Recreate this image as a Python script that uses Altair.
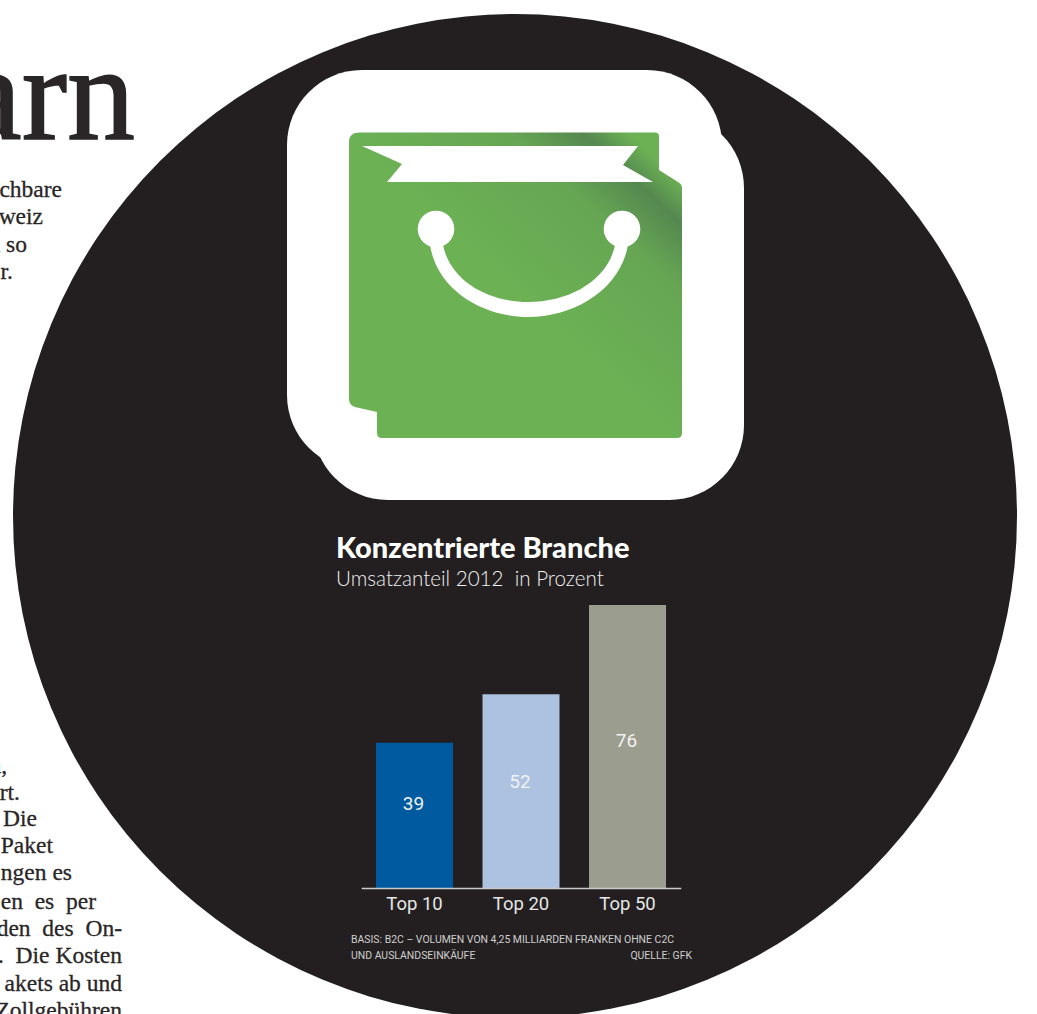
import altair as alt
import pandas as pd

# Bar chart values: share of online revenue (percent)
GROUPS = ["Top 10", "Top 20", "Top 50"]
SHARES = [39, 52, 76]
BAR_COLORS = ["#005a9f", "#adc1e0", "#9b9d8f"]

TITLE = "Konzentrierte Branche"
SUBTITLE = "Umsatzanteil 2012\u00a0\u00a0in Prozent"
NOTE_LINE_1 = "BASIS: B2C – VOLUMEN VON 4,25 MILLIARDEN FRANKEN OHNE C2C"
NOTE_LINE_2 = "UND AUSLANDSEINKÄUFE"
SOURCE = "QUELLE: GFK"

INK = "#231f20"
GREEN = "#6cb254"
PAPER_INK = "#2a2627"
SANS = "Roboto"

# Icon outlines in page pixels; a symbol of size 4 is drawn at a scale of 1
BAG_PATH = (
    "M349 142 Q349 132.5 360 132.5 L655 132.5 Q659 132.5 659 136 L659 170 L678 182 "
    "Q682 184 682 188 L682 433 Q682 438 677 438 L382 438 Q377 438 377 433 "
    "L377 412 L355 407 Q349 405 349 399 Z"
)
RIBBON_PATH = "M362 146 L638 146 L623 165 L653 182 L387 182 L402 164 Z"
HANDLE_PATH = (
    "M430 245 C437 290 483 317 528 317 C574 317 620 290 628 245 L615 245 "
    "C608 280 570 302 528 302 C487 302 450 280 443 245 Z"
)

bag_fill = alt.LinearGradient(
    gradient="linear",
    x1=0, y1=1, x2=1, y2=0,
    stops=[
        alt.GradientStop(color=GREEN, offset=0),
        alt.GradientStop(color=GREEN, offset=0.47),
        alt.GradientStop(color="#66a653", offset=0.74),
        alt.GradientStop(color="#558850", offset=0.85),
        alt.GradientStop(color=GREEN, offset=0.92),
        alt.GradientStop(color=GREEN, offset=1),
    ],
)

anchor = pd.DataFrame({"anchor": [0]})


def text_at(content, x, y, **style):
    """A single line of text placed on the page with its baseline at y."""
    return (
        alt.Chart(anchor)
        .mark_text(text=content, baseline="alphabetic", **style)
        .encode(x=alt.value(x), y=alt.value(y))
    )


def shape_at(path, fill):
    """An outline drawn from a path given in page pixels."""
    return (
        alt.Chart(anchor)
        .mark_point(shape=path, size=4, filled=True, fill=fill, opacity=1, strokeWidth=0)
        .encode(x=alt.value(0), y=alt.value(0))
    )


def panel(x, x2, y, y2):
    """White rounded square behind the icon."""
    return (
        alt.Chart(anchor)
        .mark_rect(fill="white", cornerRadius=75)
        .encode(x=alt.value(x), x2=alt.value(x2), y=alt.value(y), y2=alt.value(y2))
    )


disc = (
    alt.Chart(anchor)
    .mark_point(shape="circle", size=1008016, filled=True, fill=INK, opacity=1, strokeWidth=0)
    .encode(x=alt.value(515), y=alt.value(516))
)

icon = [
    panel(287, 722, 70, 470),
    panel(313, 744, 113, 500),
    shape_at(BAG_PATH, bag_fill),
    shape_at(RIBBON_PATH, "white"),
    shape_at(HANDLE_PATH, "white"),
]
for cx in (436, 622):
    icon.append(
        alt.Chart(anchor)
        .mark_point(shape="circle", size=1340, filled=True, fill="white", opacity=1, strokeWidth=0)
        .encode(x=alt.value(cx), y=alt.value(229))
    )

# Headline and body copy running off the left edge of the page
serif = dict(
    font="Liberation Serif", fontSize=23.5, color=PAPER_INK, align="right",
    stroke=PAPER_INK, strokeWidth=0.3,
)
wide = "\u00a0\u00a0"
page_text = [
    text_at("arn", 135, 139, font="Liberation Serif", fontSize=136, color=PAPER_INK,
            align="right", stroke=PAPER_INK, strokeWidth=1.6),
    text_at("chbare", 62, 197, **serif),
    text_at("weiz", 43, 224, **serif),
    text_at("n so", 27, 252, **serif),
    text_at("r.", 13, 279, **serif),
    text_at("n,", 7, 773, **serif),
    text_at("rt.", 20, 800, **serif),
    text_at("Die", 37, 826, **serif),
    text_at("Paket", 53, 853, **serif),
    text_at("ngen es", 72, 880, **serif),
    text_at(f"en{wide}es{wide}per", 96, 909, **serif),
    text_at(f"den{wide}des{wide}On-", 122, 936, **serif),
    text_at(f".{wide}Die Kosten", 122, 963, **serif),
    text_at("akets ab und", 122, 991, **serif),
    text_at("Zollgebühren", 122, 1018, **serif),
]

note = dict(font=SANS, fontSize=10.45, color="#cfcfcf")
captions = [
    text_at(TITLE, 336, 558, font="Lato", fontWeight=900, fontSize=29, color="white", align="left"),
    text_at(SUBTITLE, 336, 586, font="Lato", fontWeight=300, fontSize=20.6, color="#f0f0f0", align="left"),
    text_at(NOTE_LINE_1, 351, 943, align="left", **note),
    text_at(NOTE_LINE_2, 351, 959, align="left", **note),
    text_at(SOURCE, 692, 959, align="right", **note),
]

# The bars, their value labels and the category axis share one pair of scales
shares = pd.DataFrame({"group": GROUPS, "share": SHARES, "color": BAR_COLORS})
x_scale = alt.Scale(domain=GROUPS, range=[361.2, 680.8], paddingInner=0.278, paddingOuter=0.139)
y_scale = alt.Scale(domain=[0, 76], range=[888, 605], nice=False, zero=True)

x_enc = alt.X(
    "group:N",
    scale=x_scale,
    sort=GROUPS,
    title=None,
    axis=alt.Axis(
        offset=-126,
        zindex=1,
        ticks=False,
        labelAngle=0,
        labelFont=SANS,
        labelFontSize=18.5,
        labelColor="#e6e6e6",
        labelPadding=6,
        domainColor="#c9c9c9",
        domainWidth=1.6,
        grid=False,
    ),
)

bars = (
    alt.Chart(shares)
    .mark_bar(size=77)
    .encode(
        x=x_enc,
        y=alt.Y("share:Q", scale=y_scale, axis=None),
        fill=alt.Fill("color:N", scale=None, legend=None),
    )
)

value_labels = (
    alt.Chart(shares)
    .transform_calculate(label_y="datum.share * 0.457 + 4.8")
    .mark_text(font=SANS, fontSize=19, color="#f2f2f2", baseline="middle", dx=-1)
    .encode(
        x=x_enc,
        y=alt.Y("label_y:Q", scale=y_scale, axis=None),
        text=alt.Text("share:Q"),
    )
)

chart = (
    alt.layer(disc, *page_text, *icon, bars, value_labels, *captions)
    .properties(
        width=1037,
        height=1014,
        padding=0,
        background="white",
        autosize=alt.AutoSizeParams(type="none"),
    )
    .configure_view(stroke=None)
)

chart.save("out.html", embed_options={"renderer": "svg", "actions": False})
